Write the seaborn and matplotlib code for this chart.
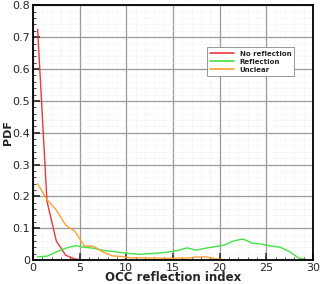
import numpy as np
import pandas as pd
import matplotlib
matplotlib.use("Agg")
import matplotlib.pyplot as plt
import seaborn as sns
from matplotlib.ticker import MultipleLocator, FuncFormatter

sns.set_style("white")
plt.rcParams['font.family'] = ['DejaVu Sans']

x_no = [0.5, 1.5, 2.5, 3.5, 4.5, 5.5]
y_no = [0.725, 0.185, 0.06, 0.015, 0.003, 0.0]

x_ref = [0.5, 1.5, 2.5, 3.5, 4.5, 5.5, 6.5, 7.5, 8.5, 9.5, 10.5, 11.5, 12.5, 13.5, 14.5,
         15.5, 16.5, 17.5, 18.5, 19.5, 20.5, 21.5, 22.5, 23.5, 24.5, 25.5, 26.5, 27.5, 28.5, 29.5]
y_ref = [0.01, 0.012, 0.025, 0.037, 0.045, 0.04, 0.037, 0.03, 0.027, 0.023, 0.02, 0.018, 0.02, 0.022, 0.025,
         0.03, 0.038, 0.031, 0.037, 0.042, 0.047, 0.06, 0.066, 0.053, 0.05, 0.044, 0.04, 0.026, 0.006, 0.0]

x_unc = [0.5, 1.5, 2.5, 3.5, 4.5, 5.5, 6.5, 7.5, 8.5, 9.5, 10.5, 11.5, 12.5, 13.5, 14.5,
         15.5, 16.5, 17.5, 18.5, 19.5, 20.5]
y_unc = [0.24, 0.19, 0.157, 0.11, 0.09, 0.044, 0.043, 0.025, 0.013, 0.011, 0.007, 0.007, 0.006, 0.006, 0.005,
         0.006, 0.006, 0.009, 0.01, 0.004, 0.001]

labels = ["No reflection", "Reflection", "Unclear"]
colors = ["#e8393b", "#44e044", "#ffa033"]

df = pd.concat([
    pd.DataFrame({"x": x_no, "y": y_no, "cat": labels[0]}),
    pd.DataFrame({"x": x_ref, "y": y_ref, "cat": labels[1]}),
    pd.DataFrame({"x": x_unc, "y": y_unc, "cat": labels[2]}),
], ignore_index=True)

fig = plt.figure(figsize=(3.2, 2.84), dpi=100)
ax = fig.add_axes([0.103, 0.0845, 0.875, 0.8965])

sns.lineplot(data=df, x="x", y="y", hue="cat", palette=dict(zip(labels, colors)),
             linewidth=1.0, ax=ax, sort=False)

ax.set_xlim(0, 30)
ax.set_ylim(0, 0.8)
ax.xaxis.set_major_locator(MultipleLocator(5))
ax.xaxis.set_minor_locator(MultipleLocator(1))
ax.yaxis.set_major_locator(MultipleLocator(0.1))
ax.yaxis.set_minor_locator(MultipleLocator(0.02))
ax.yaxis.set_major_formatter(FuncFormatter(lambda v, p: "0" if abs(v) < 1e-9 else f"{v:.1f}"))
ax.xaxis.set_major_formatter(FuncFormatter(lambda v, p: f"{int(round(v))}"))
ax.grid(which="major", color="#999999", linewidth=0.9)
ax.grid(which="minor", color="#e6e6e6", linewidth=0.5, linestyle=":")
ax.set_axisbelow(True)
ax.tick_params(which="major", direction="in", length=5, width=1.2, labelsize=8, pad=2,
               top=False, right=False, bottom=True, left=True)
ax.tick_params(which="minor", direction="in", length=2.5, width=0.6,
               top=False, right=False, bottom=True, left=True)
for s in ax.spines.values():
    s.set_linewidth(1.3)
    s.set_color("black")

ax.set_xlabel("OCC reflection index", fontsize=8.5, fontweight="bold", labelpad=-1)
ax.set_ylabel("PDF", fontsize=8, fontweight="bold")
ax.yaxis.set_label_coords(-0.07, 0.5)

leg = ax.legend(loc="upper left", bbox_to_anchor=(0.62, 0.835), fontsize=5, frameon=True,
                fancybox=False, edgecolor="#888888", framealpha=1, handlelength=3.5,
                borderpad=0.45, labelspacing=0.3, handletextpad=0.8, borderaxespad=0)
leg.get_frame().set_linewidth(0.6)
for t in leg.get_texts():
    t.set_fontweight("bold")
for l in leg.get_lines():
    l.set_linewidth(1.2)

fig.savefig("out.png", dpi=100)
